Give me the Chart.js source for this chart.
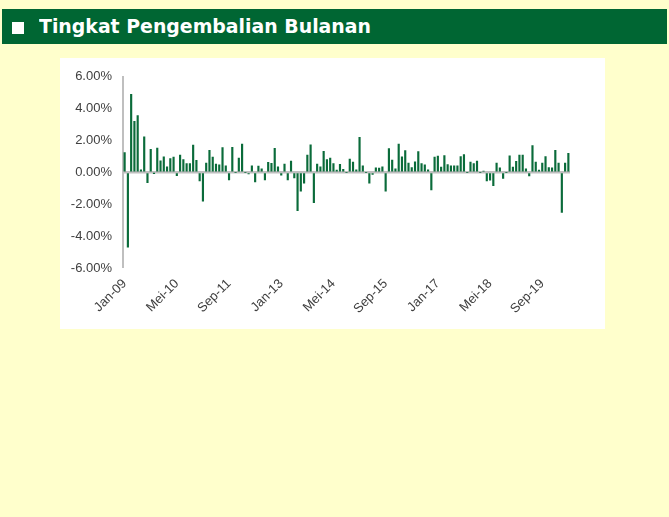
<!DOCTYPE html>
<html>
<head>
<meta charset="utf-8">
<script src="https://cdn.jsdelivr.net/npm/chart.js@4/dist/chart.umd.min.js"></script>
<style>
  html, body { margin: 0; padding: 0; background: #FFFFCC; width: 669px; height: 517px; overflow: hidden; }
  #header { position: absolute; left: 2px; top: 9px; width: 665px; height: 35px; background: #006633; }
  #sq { position: absolute; left: 10px; top: 13px; width: 12px; height: 12px; background: #ffffff; }
  #title { position: absolute; left: 37px; top: 0px; height: 35px; line-height: 35px; color: #ffffff;
           font-family: "DejaVu Sans", Verdana, sans-serif; font-weight: bold; font-size: 20px; white-space: nowrap;
           transform-origin: 0 50%; }
  #panel { position: absolute; left: 60px; top: 58px; width: 545px; height: 271px; background: #ffffff; }
  #panel canvas { position: absolute; left: 0; top: 0; }
</style>
</head>
<body>
<div id="header"><div id="sq"></div><div id="title">Tingkat Pengembalian Bulanan</div></div>
<div id="panel"><canvas id="c" width="545" height="271"></canvas></div>
<script>
// Monthly return (%) Jan-09 .. Mei-20
const monthNames = ["Jan","Feb","Mar","Apr","Mei","Jun","Jul","Agu","Sep","Okt","Nov","Des"];
const startYear = 2009;
const returns = [
  1.25, -4.70, 4.90, 3.20, 3.57, 0.16, 2.24, -0.65, 1.45, -0.05, 1.53, 0.73,
  0.98, 0.35, 0.86, 0.96, -0.20, 1.08, 0.80, 0.55, 0.55, 1.71, 0.76, -0.53,
  -1.80, 0.59, 1.39, 0.96, 0.53, 0.47, 1.55, 0.41, -0.47, 1.57, 0.00, 0.90,
  1.78, 0.00, -0.10, 0.41, -0.60, 0.39, 0.22, -0.47, 0.63, 0.57, 1.51, 0.35,
  -0.18, 0.53, -0.47, 0.71, -0.35, -2.40, -1.18, -0.67, 1.08, 1.73, -1.90, 0.53,
  0.35, 1.33, 0.80, 0.90, 0.55, 0.14, 0.51, 0.20, 0.00, 0.84, 0.65, 0.16,
  2.20, 0.41, 0.00, -0.67, -0.12, 0.29, 0.27, 0.35, -1.18, 1.49, 0.78, 0.22,
  1.78, 0.98, 1.37, 0.59, 0.31, 0.67, 1.31, 0.55, 0.47, 0.16, -1.10, 0.96,
  1.02, 0.33, 1.06, 0.49, 0.41, 0.41, 0.41, 1.00, 1.12, 0.00, 0.65, 0.55,
  0.71, 0.00, 0.08, -0.53, -0.49, -0.84, 0.59, 0.29, -0.37, 0.00, 1.04, 0.33,
  0.69, 1.08, 1.08, 0.22, -0.22, 1.69, 0.65, 0.14, 0.59, 1.00, 0.31, 0.29,
  1.39, 0.59, -2.51, 0.59, 1.20
];
const categories = returns.map((_, i) => {
  const y = startYear + Math.floor(i / 12);
  return monthNames[i % 12] + "-" + String(y % 100).padStart(2, "0");
});
const labelEvery = 16;
const yTicks = [-6, -4, -2, 0, 2, 4, 6];

// fit title width to the reference span (approx. 332px)
(function(){
  const t = document.getElementById('title');
  const target = 332;
  const w = t.getBoundingClientRect().width;
  t.style.transform = 'scaleX(' + (target / w).toFixed(4) + ')';
})();

const axisGray = '#BFBFBF';
const textGray = '#404040';
const tickFont = { family: '"Liberation Sans", Arial, sans-serif', size: 13 };

new Chart(document.getElementById('c'), {
  type: 'bar',
  data: {
    labels: categories,
    datasets: [{
      data: returns,
      backgroundColor: '#0a6b3a',
      borderWidth: 0,
      barThickness: 1.5
    }]
  },
  options: {
    responsive: false,
    animation: false,
    events: [],
    layout: { padding: { top: 15, right: 35, left: 0, bottom: 0 } },
    plugins: { legend: { display: false }, tooltip: { enabled: false } },
    scales: {
      x: {
        offset: true,
        grid: { display: false, drawTicks: false },
        border: { display: false },
        ticks: {
          autoSkip: false,
          maxRotation: 45,
          minRotation: 45,
          padding: 8,
          color: textGray,
          font: tickFont,
          callback: (v, i) => (i % labelEvery === 0 ? categories[i] : '')
        },
        afterFit: s => { s.height = 61; }
      },
      y: {
        min: -6, max: 6,
        afterBuildTicks: s => { s.ticks = yTicks.map(v => ({ value: v })); },
        grid: {
          drawTicks: false,
          color: ctx => (ctx.tick && ctx.tick.value === 0 ? axisGray : 'rgba(0,0,0,0)'),
          lineWidth: ctx => (ctx.tick && ctx.tick.value === 0 ? 2.5 : 0)
        },
        border: { display: true, color: axisGray, width: 2 },
        ticks: {
          padding: 11,
          color: textGray,
          font: tickFont,
          callback: v => Number(v).toFixed(2) + '%'
        },
        afterFit: s => { s.width = 63; }
      }
    }
  }
});
</script>
</body>
</html>
